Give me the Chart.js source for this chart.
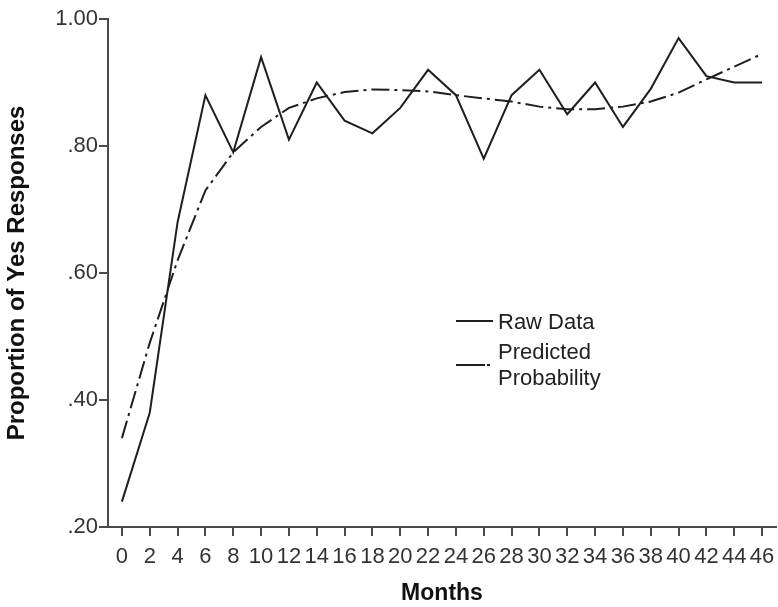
<!DOCTYPE html>
<html>
<head>
<meta charset="utf-8">
<script src="https://cdn.jsdelivr.net/npm/chart.js@4"></script>
<style>
    body { margin: 0; background: #fff; }
    #wrap { position: relative; width: 778px; height: 607px; }
    #legend { position: absolute; left: 456px; top: 309px; font-family: "Liberation Sans", Arial, sans-serif; font-size: 22px; color: #222; line-height: 26px; }
    .item { position: relative; padding-left: 42px; }
    .item + .item { margin-top: 4px; }
    .sample { position: absolute; left: 0; width: 37px; height: 0; border-top: 2px solid #1e1e1e; }
</style>
</head>
<body>
<div id="wrap">
    <canvas id="chart" width="778" height="607"></canvas>
    <div id="legend">
        <div class="item"><span class="sample" style="top:11px"></span>Raw Data</div>
        <div class="item"><span class="sample" style="top:25px;width:29px"></span><span class="sample" style="top:25px;left:31px;width:3px"></span>Predicted<br>Probability</div>
    </div>
</div>
<script>
        // Data
        const months = ['0', '2', '4', '6', '8', '10', '12', '14', '16', '18', '20', '22',
                        '24', '26', '28', '30', '32', '34', '36', '38', '40', '42', '44', '46'];
        const rawData = [0.24, 0.38, 0.68, 0.88, 0.79, 0.94, 0.81, 0.90, 0.84, 0.82, 0.86, 0.92,
                         0.88, 0.78, 0.88, 0.92, 0.85, 0.90, 0.83, 0.89, 0.97, 0.91, 0.90, 0.90];
        const predicted = [0.34, 0.49, 0.62, 0.73, 0.79, 0.83, 0.86, 0.875, 0.885, 0.889, 0.888, 0.886,
                           0.88, 0.875, 0.87, 0.862, 0.858, 0.858, 0.862, 0.87, 0.884, 0.905, 0.925, 0.945];
        const yTicks = [0.2, 0.4, 0.6, 0.8, 1.0];

        const font = "'Liberation Sans', Arial, sans-serif";
        const axisColor = '#4a4a4a';

        new Chart(document.getElementById('chart').getContext('2d'), {
            type: 'line',
            data: {
                labels: months,
                datasets: [{
                    label: 'Raw Data',
                    data: rawData,
                    borderColor: '#1e1e1e',
                    borderWidth: 2,
                    pointRadius: 0,
                    tension: 0,
                    fill: false
                }, {
                    label: 'Predicted Probability',
                    data: predicted,
                    borderColor: '#1e1e1e',
                    borderWidth: 2,
                    borderDash: [18, 5, 3, 5],
                    pointRadius: 0,
                    tension: 0,
                    fill: false
                }]
            },
            options: {
                responsive: false,
                animation: false,
                layout: { padding: { top: 19, right: 2, left: 0, bottom: 0 } },
                plugins: {
                    legend: { display: false },
                    tooltip: { enabled: false }
                },
                scales: {
                    x: {
                        type: 'category',
                        offset: true,
                        afterFit: (scale) => {
                            scale.height = 80;
                            scale.paddingLeft = 0;
                            scale.paddingRight = 0;
                        },
                        grid: {
                            offset: false,
                            drawOnChartArea: false,
                            drawTicks: true,
                            tickLength: 9,
                            color: axisColor,
                            lineWidth: 2
                        },
                        border: { color: axisColor, width: 2 },
                        ticks: {
                            autoSkip: false,
                            maxRotation: 0,
                            padding: 8,
                            color: '#333',
                            font: { family: font, size: 22 }
                        },
                        title: {
                            display: true,
                            text: 'Months',
                            color: '#111',
                            padding: { top: 0, bottom: 0 },
                            font: { family: font, size: 23, weight: 'bold' }
                        }
                    },
                    y: {
                        min: 0.2,
                        max: 1.0,
                        afterFit: (scale) => { scale.width = 108; },
                        afterBuildTicks: (scale) => { scale.ticks = yTicks.map(v => ({ value: v })); },
                        grid: {
                            drawOnChartArea: false,
                            drawTicks: true,
                            tickLength: 9,
                            color: axisColor,
                            lineWidth: 2
                        },
                        border: { color: axisColor, width: 2 },
                        ticks: {
                            padding: 1,
                            color: '#333',
                            font: { family: font, size: 22 },
                            callback: (v) => {
                                const s = Number(v).toFixed(2);
                                return s.startsWith('0') ? s.slice(1) : s;
                            }
                        },
                        title: {
                            display: true,
                            text: 'Proportion of Yes Responses',
                            color: '#111',
                            padding: { top: 3, bottom: 0 },
                            font: { family: font, size: 24, weight: 'bold' }
                        }
                    }
                }
            }
        });
</script>
</body>
</html>
